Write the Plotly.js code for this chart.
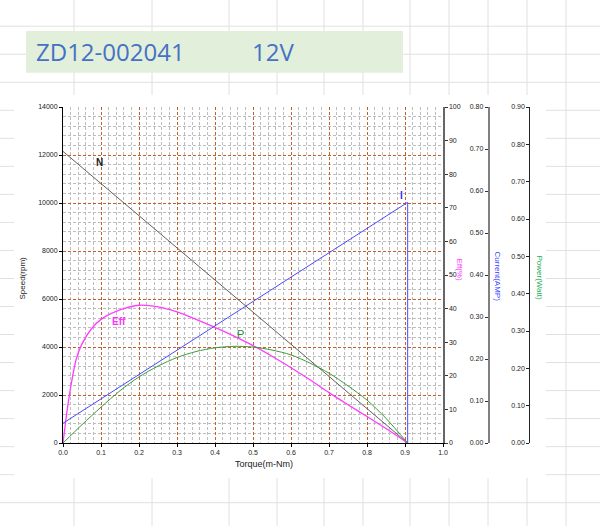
<!DOCTYPE html>
<html>
<head>
<meta charset="utf-8">
<script src="https://cdn.plot.ly/plotly-3.0.1.min.js"></script>
<style>
  html, body { margin: 0; padding: 0; background: #fff; }
  #chart { width: 600px; height: 526px; }
</style>
</head>
<body>
<div id="chart"></div>
<script>
// ---- data ----
var modelName = "ZD12-002041";
var voltageLabel = "12V";

// Speed line N (rpm) vs torque (mN·m)
var speedTorque = [0, 0.907];
var speedRpm = [12150, 0];

// Current I (A) vs torque
var currentTorque = [0, 0.907, 0.907];
var currentAmp = [0.047, 0.573, 0];

// Efficiency (%) vs torque
var effTorque = [0, 0.01, 0.02, 0.035, 0.05, 0.075, 0.1, 0.15, 0.2, 0.25, 0.3, 0.35, 0.4, 0.45, 0.5, 0.55, 0.6, 0.65, 0.7, 0.75, 0.8, 0.85, 0.907];
var effPct = [0, 9, 16.5, 25, 29.5, 34, 36.8, 39.6, 41, 40.5, 39, 36.8, 34.4, 31.8, 29, 25.8, 22.4, 18.8, 15, 11.4, 7.9, 4.3, 0];

// Output power (W) vs torque
var powerTorque = [0, 0.05, 0.1, 0.15, 0.2, 0.25, 0.3, 0.35, 0.4, 0.45, 0.5, 0.55, 0.6, 0.65, 0.7, 0.75, 0.8, 0.85, 0.907];
var powerWatt = [0, 0.049, 0.096, 0.140, 0.177, 0.206, 0.229, 0.245, 0.255, 0.259, 0.257, 0.249, 0.236, 0.214, 0.187, 0.153, 0.115, 0.066, 0];

// ---- helpers: pixel -> paper ----
var W = 600, H = 526;
function px(x) { return x / W; }
function py(y) { return (H - y) / H; }

var FONT = "Liberation Sans, Arial, sans-serif";
var tickFont = { family: FONT, size: 7, color: "#222" };

var traces = [
  { x: speedTorque, y: speedRpm, type: "scatter", mode: "lines", yaxis: "y",
    line: { color: "#606060", width: 1 }, hoverinfo: "skip" },
  { x: effTorque, y: effPct, type: "scatter", mode: "lines", yaxis: "y2",
    line: { color: "#ff3cff", width: 1.3, shape: "spline", smoothing: 0.8 }, hoverinfo: "skip" },
  { x: currentTorque, y: currentAmp, type: "scatter", mode: "lines", yaxis: "y3",
    line: { color: "#4a4aff", width: 1 }, hoverinfo: "skip" },
  { x: powerTorque, y: powerWatt, type: "scatter", mode: "lines", yaxis: "y4",
    line: { color: "#3a9a3a", width: 1, shape: "spline", smoothing: 0.8 }, hoverinfo: "skip" }
];

// spreadsheet cell grid (decorative background)
var shapes = [];
var gridCol = "#e0e0e0";
var vx = [74, 152, 229, 277, 324, 363, 410, 449, 488, 527, 566];
vx.forEach(function (x) {
  shapes.push({ type: "line", xref: "paper", yref: "paper", layer: "below",
    x0: px(x), x1: px(x), y0: py(0), y1: py(H), line: { color: gridCol, width: 1 } });
});
for (var k = 0; k <= 17; k++) {
  var yy = 26.2 + 28.03 * k;
  shapes.push({ type: "line", xref: "paper", yref: "paper", layer: "below",
    x0: px(0), x1: px(W), y0: py(yy), y1: py(yy), line: { color: gridCol, width: 1 } });
}
// white chart area
shapes.push({ type: "rect", xref: "paper", yref: "paper", layer: "below",
  x0: px(14), x1: px(546), y0: py(478), y1: py(95), fillcolor: "#ffffff", line: { width: 0 } });
// title box
shapes.push({ type: "rect", xref: "paper", yref: "paper", layer: "below",
  x0: px(26), x1: px(403), y0: py(72.7), y1: py(31), fillcolor: "#e2efda", line: { width: 0 } });

var annotations = [
  { text: modelName, xref: "paper", yref: "paper", x: px(34), y: py(51), xanchor: "left", yanchor: "middle",
    showarrow: false, font: { family: "Open Sans, Noto Sans, sans-serif", size: 24, color: "#4472c4" } },
  { text: voltageLabel, xref: "paper", yref: "paper", x: px(250), y: py(51), xanchor: "left", yanchor: "middle",
    showarrow: false, font: { family: "Open Sans, Noto Sans, sans-serif", size: 24, color: "#4472c4" } },
  // axis titles
  { text: "Speed(rpm)", xref: "paper", yref: "paper", x: px(15), y: py(278), textangle: -90,
    showarrow: false, font: { family: FONT, size: 8, color: "#222" } },
  { text: "Torque(m-Nm)", xref: "paper", yref: "paper", x: px(264), y: py(471),
    showarrow: false, font: { family: FONT, size: 9, color: "#222" } },
  { text: "Eff(%)", xref: "paper", yref: "paper", x: px(466), y: py(270), textangle: 90,
    showarrow: false, font: { family: FONT, size: 8, color: "#ff33ff" } },
  { text: "Current(AMP)", xref: "paper", yref: "paper", x: px(504), y: py(276), textangle: 90,
    showarrow: false, font: { family: FONT, size: 8, color: "#4040ff" } },
  { text: "Power(Watt)", xref: "paper", yref: "paper", x: px(546), y: py(277), textangle: 90,
    showarrow: false, font: { family: FONT, size: 8, color: "#22aa55" } },
  // curve labels
  { text: "<b>N</b>", xref: "x", yref: "y", x: 0.097, y: 11670, showarrow: false,
    font: { family: FONT, size: 10, color: "#222" } },
  { text: "<b>I</b>", xref: "x", yref: "y", x: 0.892, y: 10330, showarrow: false,
    font: { family: FONT, size: 10, color: "#3030ff" } },
  { text: "<b>Eff</b>", xref: "x", yref: "y", x: 0.1474, y: 5080, showarrow: false,
    font: { family: FONT, size: 10, color: "#ff33ff" } },
  { text: "P", xref: "x", yref: "y", x: 0.4658, y: 4540, showarrow: false,
    font: { family: FONT, size: 11, color: "#2e8b2e" } }
];

var majorGrid = "#c0602c";
var minorGrid = "#bdbdbd";

var layout = {
  width: W, height: H,
  margin: { l: 0, r: 0, t: 0, b: 0 },
  paper_bgcolor: "#ffffff",
  plot_bgcolor: "rgba(0,0,0,0)",
  showlegend: false,
  font: { family: FONT, size: 7, color: "#222" },
  xaxis: {
    domain: [63 / W, 443 / W], range: [0, 1], dtick: 0.1, tick0: 0, tickformat: ".1f",
    showline: true, linecolor: "#000", linewidth: 1, ticks: "outside", ticklen: 3, tickcolor: "#000",
    tickfont: tickFont, zeroline: false,
    showgrid: true, gridcolor: majorGrid, gridwidth: 1, griddash: "3px,2px",
    minor: { dtick: 0.02, showgrid: true, gridcolor: minorGrid, gridwidth: 1, griddash: "3px,2px" },
    anchor: "y", fixedrange: true
  },
  yaxis: {
    domain: [(H - 443) / H, (H - 107) / H], range: [0, 14000], dtick: 2000, tick0: 0, tickformat: "d",
    showline: true, linecolor: "#000", linewidth: 1, ticks: "outside", ticklen: 3, tickcolor: "#000",
    tickfont: tickFont, zeroline: false,
    showgrid: true, gridcolor: majorGrid, gridwidth: 1, griddash: "3px,2px",
    minor: { dtick: 400, showgrid: true, gridcolor: minorGrid, gridwidth: 1, griddash: "3px,2px" },
    anchor: "x", fixedrange: true
  },
  yaxis2: {
    overlaying: "y", side: "right", anchor: "x", range: [0, 100], dtick: 10, tickformat: "d",
    showline: true, linecolor: "#666", linewidth: 1.5, ticks: "outside", ticklen: 3, tickcolor: "#333",
    tickfont: tickFont, showgrid: false, zeroline: false, fixedrange: true
  },
  yaxis3: {
    overlaying: "y", side: "left", anchor: "free", position: 488.7 / W, range: [0, 0.8], dtick: 0.1,
    tickformat: ".2f", showline: true, linecolor: "#808080", linewidth: 2, ticks: "outside", ticklen: 3,
    tickcolor: "#333", tickfont: tickFont, showgrid: false, zeroline: false, fixedrange: true
  },
  yaxis4: {
    overlaying: "y", side: "left", anchor: "free", position: 529.3 / W, range: [0, 0.9], dtick: 0.1,
    tickformat: ".2f", showline: true, linecolor: "#222", linewidth: 1, ticks: "outside", ticklen: 3,
    tickcolor: "#222", tickfont: tickFont, showgrid: false, zeroline: false, fixedrange: true
  },
  shapes: shapes,
  annotations: annotations
};

Plotly.newPlot("chart", traces, layout, { staticPlot: true, displayModeBar: false });
</script>
</body>
</html>
